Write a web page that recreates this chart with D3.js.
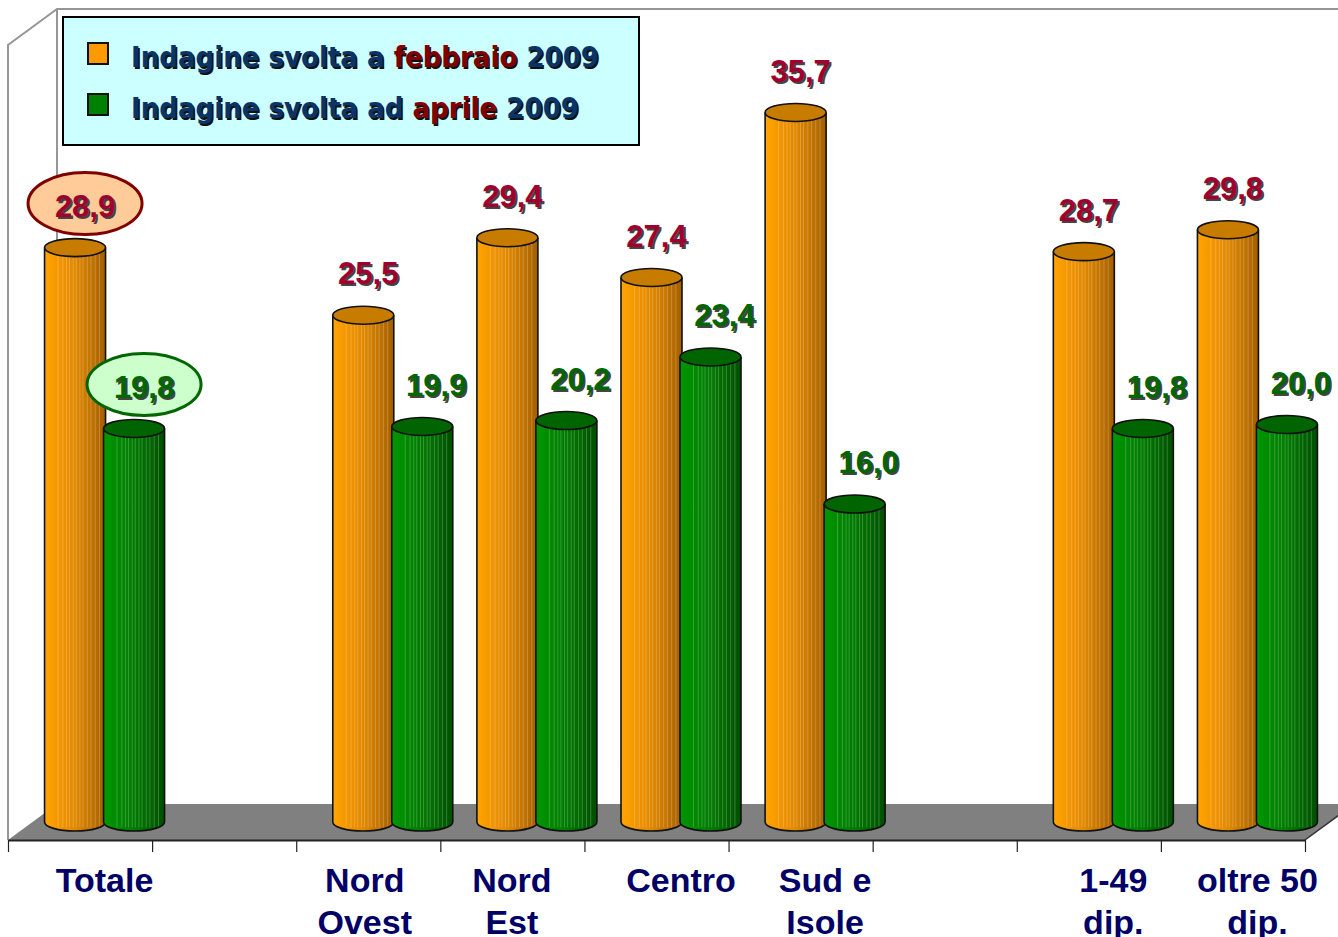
<!DOCTYPE html>
<html>
<head>
<meta charset="utf-8">
<script src="https://cdn.jsdelivr.net/npm/d3@7"></script>
<style>
  body { margin: 0; background: #fff; }
  svg { display: block; }
</style>
</head>
<body>
<div id="chart"></div>
<script>
'use strict';

// categories on the x axis ('' = empty slot used as a spacer)
const categories = ['Totale', '', 'Nord\nOvest', 'Nord\nEst', 'Centro', 'Sud e\nIsole', '', '1-49\ndip.', 'oltre 50\ndip.'];
const febbraio = [28.9, null, 25.5, 29.4, 27.4, 35.7, null, 28.7, 29.8];
const aprile = [19.8, null, 19.9, 20.2, 23.4, 16.0, null, 19.8, 20.0];
const seriesNames = ['Indagine svolta a febbraio 2009', 'Indagine svolta ad aprile 2009'];
const yMax = 40;

const W = 1338, H = 937;
const front = {x0: 8, x1: 1305, y: 840};
const depth = {dx: 49, dy: -36};
const rx = 30.5, ry = 9;

const series = [
  {key: 'feb', values: febbraio, name: seriesNames[0], highlight: 'febbraio',
   stops: ['#FFA500', '#F39500', '#E08800', '#C47500', '#A25E00'], top: '#C77C00',
   label: '#A0002E', legend: '#FF9900', dx: 5, bubble: {fill: '#FFCC99', stroke: '#800000'}},
  {key: 'apr', values: aprile, name: seriesNames[1], highlight: 'aprile',
   stops: ['#009800', '#008800', '#007A00', '#006600', '#004E00'], top: '#006400',
   label: '#006600', legend: '#008000', dx: 14, bubble: {fill: '#CCFFCC', stroke: '#006600'}},
];

const x = d3.scaleBand().domain(d3.range(categories.length)).range([front.x0, front.x1]);
const xs = d3.scaleBand().domain(series.map(s => s.key)).range([-59, 59]);
const y = d3.scaleLinear().domain([0, yMax]).range([0, 795]);
const fmt = v => d3.format('.1f')(v).replace('.', ',');

const svg = d3.select('#chart').append('svg')
              .attr('width', W).attr('height', H)
              .style('font-family', '"Liberation Sans", Arial, sans-serif');

const defs = svg.append('defs');
series.forEach(s => {
  const g = defs.append('linearGradient').attr('id', 'grad-' + s.key)
                .attr('x1', 0).attr('x2', 1).attr('y1', 0).attr('y2', 0);
  s.stops.forEach((c, i) => g.append('stop')
    .attr('offset', (i / (s.stops.length - 1) * 100) + '%').attr('stop-color', c));
});

// walls and floor
const backFloorY = front.y + depth.dy;
const wallTop = backFloorY - y(yMax);
const walls = svg.append('g').attr('fill', 'none').attr('stroke', '#969696').attr('stroke-width', 2);
walls.append('path')
     .attr('d', `M${front.x0},${front.y} L${front.x0},${wallTop - depth.dy}
                 L${front.x0 + depth.dx},${wallTop} L${W},${wallTop}`);
walls.append('line')
     .attr('x1', front.x0 + depth.dx).attr('y1', wallTop)
     .attr('x2', front.x0 + depth.dx).attr('y2', backFloorY);

svg.append('path')
   .attr('d', `M${front.x0},${front.y} L${front.x0 + depth.dx},${backFloorY}
               L${front.x1 + depth.dx},${backFloorY} L${front.x1},${front.y} Z`)
   .attr('fill', '#808080');
svg.append('path')
   .attr('d', `M${front.x1},${front.y} L${front.x1 + depth.dx},${backFloorY}`)
   .attr('stroke', '#333').attr('stroke-width', 1.5).attr('fill', 'none');

// axis with ticks at the category boundaries
const xEdges = d3.scaleLinear().domain([0, categories.length]).range([front.x0, front.x1]);
const axis = svg.append('g').attr('transform', `translate(0,${front.y})`)
  .call(d3.axisBottom(xEdges).ticks(categories.length).tickSize(12).tickSizeOuter(0).tickFormat(''));
axis.select('.domain').attr('stroke', '#222').attr('stroke-width', 2);
axis.selectAll('.tick line').attr('stroke', '#222').attr('stroke-width', 1.2);

// cylinders
const baseY = front.y + depth.dy / 2;
const pairCenter = i => x(i) + x.bandwidth() / 2 + depth.dx / 2;
const stripes = [0.22, 0.3, 0.36, 0.41, 0.47, 0.52, 0.58, 0.63, 0.7, 0.76, 0.83, 0.9];

const bars = svg.append('g');
categories.forEach((c, i) => {
  series.forEach(s => {
    const v = s.values[i];
    if (v == null) return;
    const cx = pairCenter(i) + xs(s.key) + xs.bandwidth() / 2;
    const top = baseY - y(v);
    const g = bars.append('g');
    g.append('path')
     .attr('d', `M${cx - rx},${top} L${cx - rx},${baseY}
                 A${rx},${ry} 0 0 0 ${cx + rx},${baseY} L${cx + rx},${top} Z`)
     .attr('fill', `url(#grad-${s.key})`);
    g.selectAll('line.stripe').data(stripes).enter().append('line')
     .attr('x1', f => cx - rx + f * 2 * rx).attr('x2', f => cx - rx + f * 2 * rx)
     .attr('y1', top).attr('y2', baseY + ry * 0.6)
     .attr('stroke', '#fff').attr('stroke-opacity', 0.22).attr('stroke-width', 1);
    g.append('path')
     .attr('d', `M${cx - rx},${top} L${cx - rx},${baseY}
                 A${rx},${ry} 0 0 0 ${cx + rx},${baseY} L${cx + rx},${top}`)
     .attr('fill', 'none').attr('stroke', '#111').attr('stroke-width', 1.6);
    g.append('ellipse')
     .attr('cx', cx).attr('cy', top).attr('rx', rx).attr('ry', ry)
     .attr('fill', s.top).attr('stroke', '#111').attr('stroke-width', 1.6);
  });
});

// value labels
const labels = svg.append('g').attr('font-weight', 'bold').attr('font-size', 31)
                  .attr('text-anchor', 'middle');
categories.forEach((c, i) => {
  series.forEach(s => {
    const v = s.values[i];
    if (v == null) return;
    const cx = pairCenter(i) + xs(s.key) + xs.bandwidth() / 2;
    const cy = baseY - y(v) - 42;
    let lx = cx + s.dx;
    if (i === 0) {
      lx = cx + 10;
      labels.append('ellipse')
            .attr('cx', lx).attr('cy', cy - 2).attr('rx', 57).attr('ry', 31)
            .attr('fill', s.bubble.fill).attr('stroke', s.bubble.stroke).attr('stroke-width', 3);
    }
    labels.append('text').attr('x', lx + 2).attr('y', cy + 2).attr('dy', '0.36em')
          .attr('fill', '#444').text(fmt(v));
    labels.append('text').attr('x', lx).attr('y', cy).attr('dy', '0.36em')
          .attr('fill', s.label).text(fmt(v));
  });
});

// category labels
const labelShift = {'Nord\nOvest': -28, 'Nord\nEst': -25};
const catG = svg.append('g').attr('font-weight', 'bold').attr('font-size', 34)
                .attr('fill', '#000066').attr('text-anchor', 'middle');
categories.forEach((c, i) => {
  if (!c) return;
  const cx = pairCenter(i) + (labelShift[c] || 0);
  const t = catG.append('text').attr('x', cx).attr('y', 892);
  c.split('\n').forEach((line, k) => {
    t.append('tspan').attr('x', cx).attr('dy', k === 0 ? 0 : 42).text(line);
  });
});

// legend
const legend = svg.append('g');
legend.append('rect').attr('x', 63).attr('y', 17).attr('width', 576).attr('height', 128)
      .attr('fill', '#CCFFFF').attr('stroke', '#000').attr('stroke-width', 2);
const legendWidths = [468, 448];
series.forEach((s, k) => {
  const ly = 67 + k * 51;
  legend.append('rect').attr('x', 88).attr('y', ly - 24).attr('width', 20).attr('height', 21)
        .attr('fill', s.legend).attr('stroke', '#111').attr('stroke-width', 2);
  const parts = s.name.split(s.highlight);
  [{dx: 1.5, shadow: true}, {dx: 0, shadow: false}].forEach(o => {
    const t = legend.append('text').attr('x', 131 + o.dx).attr('y', ly + o.dx)
                    .attr('font-family', '"DejaVu Sans Condensed", "DejaVu Sans", sans-serif')
                    .attr('font-weight', 'bold').attr('font-size', 29)
                    .attr('textLength', legendWidths[k]).attr('lengthAdjust', 'spacingAndGlyphs');
    t.append('tspan').attr('fill', o.shadow ? '#111' : '#0B3466').text(parts[0]);
    t.append('tspan').attr('fill', o.shadow ? '#111' : '#800000').text(s.highlight);
    t.append('tspan').attr('fill', o.shadow ? '#111' : '#0B3466').text(parts[1]);
  });
});
</script>
</body>
</html>
